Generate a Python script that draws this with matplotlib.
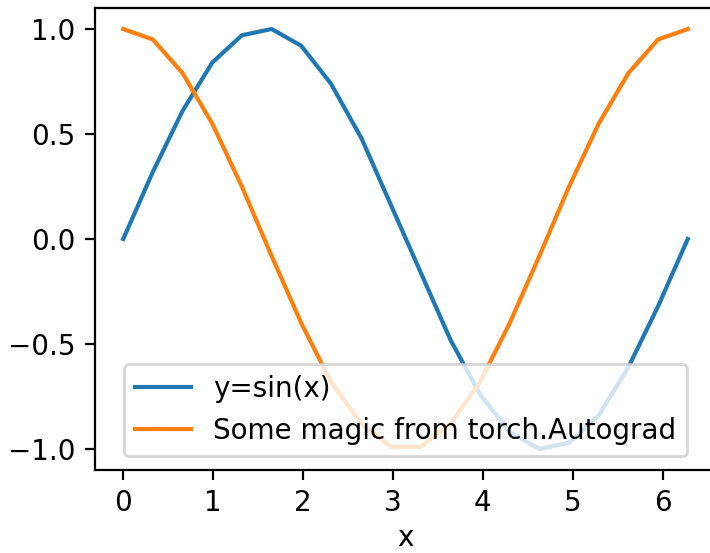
import matplotlib
matplotlib.use("Agg")
import matplotlib.pyplot as plt

x = [0.00, 0.33, 0.66, 0.99, 1.32, 1.65, 1.98, 2.31, 2.65, 2.98,
     3.31, 3.64, 3.97, 4.30, 4.63, 4.96, 5.29, 5.62, 5.95, 6.28]
sin_y = [0.00, 0.32, 0.61, 0.84, 0.97, 1.00, 0.92, 0.74, 0.48, 0.16,
         -0.16, -0.48, -0.74, -0.92, -1.00, -0.97, -0.84, -0.61, -0.32, 0.00]
magic_y = [1.00, 0.95, 0.79, 0.55, 0.25, -0.08, -0.40, -0.68, -0.88, -0.99,
           -0.99, -0.88, -0.68, -0.40, -0.08, 0.25, 0.55, 0.79, 0.95, 1.00]

dpi = 200
fig = plt.figure(figsize=(710 / dpi, 553 / dpi), dpi=dpi)
ax = fig.add_axes([95 / 710, 1 - 470 / 553, 621 / 710, 462 / 553])

ax.plot(x, sin_y, label="y=sin(x)")
ax.plot(x, magic_y, label="Some magic from torch.Autograd")
ax.set_xlabel("x", labelpad=2.5)
ax.legend(loc="lower center")

fig.savefig("out.png", dpi=dpi)
